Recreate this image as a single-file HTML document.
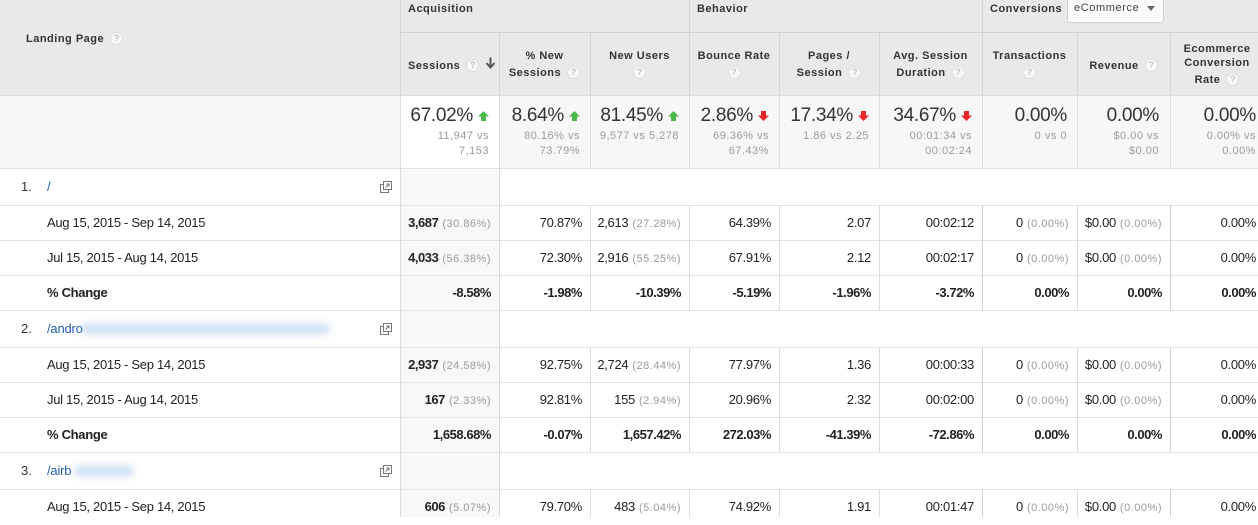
<!DOCTYPE html>
<html><head><meta charset="utf-8">
<style>
*{margin:0;padding:0;box-sizing:border-box}
body{width:1258px;height:517px;overflow:hidden;background:#fff;font-family:"Liberation Sans",Arial,sans-serif;color:#222;position:relative}
.a{position:absolute}
.hl{position:absolute;height:1px}
.vl{position:absolute;width:1px}
.gh{position:absolute;top:1px;font-weight:bold;font-size:11px;color:#333;letter-spacing:.5px;line-height:16px;white-space:nowrap}
.ht{position:absolute;font-weight:bold;font-size:11px;color:#333;letter-spacing:.5px;line-height:16px;height:16px;white-space:nowrap;text-align:center}
.q{display:inline-block;width:13px;height:13px;border-radius:50%;background:#f8f8f8;border:1px solid #dedede;color:#c2c2c2;font-size:9px;line-height:11px;text-align:center;font-weight:bold;vertical-align:middle;margin-left:6px;letter-spacing:0;position:relative;top:-1px}
.s{position:absolute;top:105px;text-align:right;white-space:nowrap}
.big{font-size:19px;line-height:22px;letter-spacing:-.3px;color:#333}
.big svg{margin-left:5px;vertical-align:baseline}
.sub{font-size:11px;line-height:15px;color:#9a9a9a;letter-spacing:.5px;margin-top:2px}
.row{position:absolute;left:0;width:1258px}
.v{position:absolute;top:0;white-space:nowrap;font-size:13px;letter-spacing:-.3px;color:#222}
.b{font-weight:bold;letter-spacing:-.45px}
.p{font-size:11px;color:#9a9a9a;letter-spacing:.5px;margin-left:4px;font-weight:normal}
.lt{position:absolute;left:47px;top:0;font-size:13px;letter-spacing:-.3px;white-space:nowrap;color:#222}
.num{position:absolute;left:21px;top:0;font-size:13px;color:#333}
.lnk{position:absolute;left:47px;top:0;font-size:13px;color:#1f5fb3;letter-spacing:-.2px;white-space:nowrap}
.blur{position:absolute;height:12px;background:rgba(125,170,220,.32);filter:blur(3.5px);border-radius:6px}
.cp{position:absolute;left:380px;top:12px}
.k1{right:767px}.k2{right:676px}.k3{right:577px}.k4{right:487px}.k5{right:387px}.k6{right:284px}.k7{right:189px}.k8{right:96px}.k9{right:2px}
.hv{background:#d3d3d3}
.sv{background:#dfdfdf}
.dv{background:#dcdcdc}
.rl{background:#e3e3e3}
</style></head><body>

<!-- header background -->
<div class="a" style="left:0;top:0;width:1258px;height:95px;background:#e9e9e9"></div>
<!-- summary background -->
<div class="a" style="left:0;top:95px;width:1258px;height:73px;background:#f7f7f7"></div>
<div class="a" style="left:401px;top:96px;width:98px;height:72px;background:#fff"></div>
<!-- sessions column bg -->
<div class="a" style="left:401px;top:169px;width:98px;height:348px;background:#f7f8f8"></div>

<!-- header lines -->
<div class="hl hv" style="left:400px;top:32px;width:858px"></div>
<div class="hl" style="left:0;top:95px;width:1258px;background:#dcdcdc"></div>
<div class="vl hv" style="left:400px;top:0;height:95px"></div>
<div class="vl hv" style="left:689px;top:0;height:95px"></div>
<div class="vl hv" style="left:982px;top:0;height:95px"></div>
<div class="vl hv" style="left:499px;top:32px;height:63px"></div>
<div class="vl hv" style="left:590px;top:32px;height:63px"></div>
<div class="vl hv" style="left:779px;top:32px;height:63px"></div>
<div class="vl hv" style="left:879px;top:32px;height:63px"></div>
<div class="vl hv" style="left:1077px;top:32px;height:63px"></div>
<div class="vl hv" style="left:1170px;top:32px;height:63px"></div>

<!-- summary verticals -->
<div class="vl sv" style="left:400px;top:95px;height:73px"></div>
<div class="vl sv" style="left:499px;top:95px;height:73px"></div>
<div class="vl sv" style="left:590px;top:95px;height:73px"></div>
<div class="vl sv" style="left:689px;top:95px;height:73px"></div>
<div class="vl sv" style="left:779px;top:95px;height:73px"></div>
<div class="vl sv" style="left:879px;top:95px;height:73px"></div>
<div class="vl sv" style="left:982px;top:95px;height:73px"></div>
<div class="vl sv" style="left:1077px;top:95px;height:73px"></div>
<div class="vl sv" style="left:1170px;top:95px;height:73px"></div>

<!-- row lines -->
<div class="hl rl" style="left:0;top:168px;width:1258px"></div>
<div class="hl rl" style="left:0;top:205px;width:1258px"></div>
<div class="hl rl" style="left:0;top:240px;width:1258px"></div>
<div class="hl rl" style="left:0;top:275px;width:1258px"></div>
<div class="hl rl" style="left:0;top:310px;width:1258px"></div>
<div class="hl rl" style="left:0;top:347px;width:1258px"></div>
<div class="hl rl" style="left:0;top:382px;width:1258px"></div>
<div class="hl rl" style="left:0;top:417px;width:1258px"></div>
<div class="hl rl" style="left:0;top:452px;width:1258px"></div>
<div class="hl rl" style="left:0;top:489px;width:1258px"></div>

<!-- data verticals -->
<div class="vl dv" style="left:400px;top:168px;height:349px"></div>
<div class="vl dv" style="left:499px;top:168px;height:349px"></div>

<div class="vl dv" style="left:590px;top:205px;height:105px"></div>
<div class="vl dv" style="left:689px;top:205px;height:105px"></div>
<div class="vl dv" style="left:779px;top:205px;height:105px"></div>
<div class="vl dv" style="left:879px;top:205px;height:105px"></div>
<div class="vl" style="left:982px;top:205px;height:105px;background:#cfcfcf"></div>
<div class="vl dv" style="left:1077px;top:205px;height:105px"></div>
<div class="vl" style="left:1170px;top:205px;height:105px;background:#d2d2d2"></div>

<div class="vl dv" style="left:590px;top:347px;height:105px"></div>
<div class="vl dv" style="left:689px;top:347px;height:105px"></div>
<div class="vl dv" style="left:779px;top:347px;height:105px"></div>
<div class="vl dv" style="left:879px;top:347px;height:105px"></div>
<div class="vl" style="left:982px;top:347px;height:105px;background:#cfcfcf"></div>
<div class="vl dv" style="left:1077px;top:347px;height:105px"></div>
<div class="vl" style="left:1170px;top:347px;height:105px;background:#d2d2d2"></div>

<div class="vl dv" style="left:590px;top:489px;height:28px"></div>
<div class="vl dv" style="left:689px;top:489px;height:28px"></div>
<div class="vl dv" style="left:779px;top:489px;height:28px"></div>
<div class="vl dv" style="left:879px;top:489px;height:28px"></div>
<div class="vl" style="left:982px;top:489px;height:28px;background:#cfcfcf"></div>
<div class="vl dv" style="left:1077px;top:489px;height:28px"></div>
<div class="vl" style="left:1170px;top:489px;height:28px;background:#d2d2d2"></div>

<!-- header text -->
<div class="ht" style="left:26px;top:31px;text-align:left">Landing Page<span class="q">?</span></div>
<div class="gh" style="left:408px">Acquisition</div>
<div class="gh" style="left:697px">Behavior</div>
<div class="gh" style="left:990px">Conversions</div>
<div class="a" style="left:1067px;top:-4px;width:97px;height:27px;background:#fafafa;border:1px solid #d2d2d2;border-radius:3px"></div>
<div class="a" style="left:1074px;top:0;font-size:11px;line-height:16px;color:#444;letter-spacing:.6px">eCommerce</div>
<div class="a" style="left:1147px;top:6px;width:0;height:0;border-left:4px solid transparent;border-right:4px solid transparent;border-top:5px solid #666"></div>

<div class="ht" style="left:408px;top:58px;text-align:left">Sessions<span class="q">?</span><svg width="11" height="12" viewBox="0 0 11 12" style="margin-left:6px;vertical-align:middle;position:relative;top:-3px"><path d="M5.5 0.5 V10 M1.5 6 L5.5 10.5 L9.5 6" stroke="#555" stroke-width="2" fill="none"/></svg></div>

<div class="ht" style="left:499px;width:91px;top:48px">% New</div>
<div class="ht" style="left:499px;width:91px;top:65px">Sessions<span class="q">?</span></div>

<div class="ht" style="left:590px;width:99px;top:48px">New Users</div>
<div class="ht" style="left:590px;width:99px;top:65px"><span class="q" style="margin-left:0">?</span></div>

<div class="ht" style="left:689px;width:90px;top:48px">Bounce Rate</div>
<div class="ht" style="left:689px;width:90px;top:65px"><span class="q" style="margin-left:0">?</span></div>

<div class="ht" style="left:779px;width:100px;top:48px">Pages /</div>
<div class="ht" style="left:779px;width:100px;top:65px">Session<span class="q">?</span></div>

<div class="ht" style="left:879px;width:103px;top:48px">Avg. Session</div>
<div class="ht" style="left:879px;width:103px;top:65px">Duration<span class="q">?</span></div>

<div class="ht" style="left:982px;width:95px;top:48px">Transactions</div>
<div class="ht" style="left:982px;width:95px;top:65px"><span class="q" style="margin-left:0">?</span></div>

<div class="ht" style="left:1077px;width:93px;top:58px">Revenue<span class="q">?</span></div>

<div class="ht" style="left:1170px;width:94px;top:41px">Ecommerce</div>
<div class="ht" style="left:1170px;width:94px;top:55px">Conversion</div>
<div class="ht" style="left:1170px;width:94px;top:72px">Rate<span class="q">?</span></div>

<!-- summary -->
<div class="s" style="right:769px"><div class="big">67.02%<svg width="11" height="10" viewBox="0 0 11 10"><polygon points="5.5,0 11,5.5 8,5.5 8,10 3,10 3,5.5 0,5.5" fill="#4cb848"/></svg></div><div class="sub">11,947 vs<br>7,153</div></div>
<div class="s" style="right:678px"><div class="big">8.64%<svg width="11" height="10" viewBox="0 0 11 10"><polygon points="5.5,0 11,5.5 8,5.5 8,10 3,10 3,5.5 0,5.5" fill="#4cb848"/></svg></div><div class="sub">80.16% vs<br>73.79%</div></div>
<div class="s" style="right:579px"><div class="big">81.45%<svg width="11" height="10" viewBox="0 0 11 10"><polygon points="5.5,0 11,5.5 8,5.5 8,10 3,10 3,5.5 0,5.5" fill="#4cb848"/></svg></div><div class="sub">9,577 vs 5,278</div></div>
<div class="s" style="right:489px"><div class="big">2.86%<svg width="11" height="10" viewBox="0 0 11 10"><polygon points="5.5,10 11,4.5 8,4.5 8,0 3,0 3,4.5 0,4.5" fill="#e8262a"/></svg></div><div class="sub">69.36% vs<br>67.43%</div></div>
<div class="s" style="right:389px"><div class="big">17.34%<svg width="11" height="10" viewBox="0 0 11 10"><polygon points="5.5,10 11,4.5 8,4.5 8,0 3,0 3,4.5 0,4.5" fill="#e8262a"/></svg></div><div class="sub">1.86 vs 2.25</div></div>
<div class="s" style="right:286px"><div class="big">34.67%<svg width="11" height="10" viewBox="0 0 11 10"><polygon points="5.5,10 11,4.5 8,4.5 8,0 3,0 3,4.5 0,4.5" fill="#e8262a"/></svg></div><div class="sub">00:01:34 vs<br>00:02:24</div></div>
<div class="s" style="right:191px"><div class="big">0.00%</div><div class="sub">0 vs 0</div></div>
<div class="s" style="right:99px"><div class="big">0.00%</div><div class="sub">$0.00 vs<br>$0.00</div></div>
<div class="s" style="right:2px"><div class="big">0.00%</div><div class="sub">0.00% vs<br>0.00%</div></div>

<!-- Landing row 1 -->
<div class="row" style="top:169px;height:36px;line-height:36px">
 <div class="num">1.</div><div class="lnk">/</div>
 <svg class="cp" width="12" height="12" viewBox="0 0 12 12"><rect x="3.5" y="0.5" width="8" height="8" fill="#fff" stroke="#777"/><path d="M5.5 6.5 L9 3 M6.5 3 H9 V5.5" stroke="#777" fill="none"/><path d="M3.5 3.5 H0.5 V11.5 H8.5 V8.5" stroke="#777" fill="none"/></svg>
</div>
<div class="row" style="top:206px;height:34px;line-height:34px">
 <div class="lt">Aug 15, 2015 - Sep 14, 2015</div>
 <div class="v b k1">3,687<span class="p">(30.86%)</span></div>
 <div class="v k2">70.87%</div>
 <div class="v k3">2,613<span class="p">(27.28%)</span></div>
 <div class="v k4">64.39%</div>
 <div class="v k5">2.07</div>
 <div class="v k6">00:02:12</div>
 <div class="v k7">0<span class="p">(0.00%)</span></div>
 <div class="v k8">$0.00<span class="p">(0.00%)</span></div>
 <div class="v k9">0.00%</div>
</div>
<div class="row" style="top:241px;height:34px;line-height:34px">
 <div class="lt">Jul 15, 2015 - Aug 14, 2015</div>
 <div class="v b k1">4,033<span class="p">(56.38%)</span></div>
 <div class="v k2">72.30%</div>
 <div class="v k3">2,916<span class="p">(55.25%)</span></div>
 <div class="v k4">67.91%</div>
 <div class="v k5">2.12</div>
 <div class="v k6">00:02:17</div>
 <div class="v k7">0<span class="p">(0.00%)</span></div>
 <div class="v k8">$0.00<span class="p">(0.00%)</span></div>
 <div class="v k9">0.00%</div>
</div>
<div class="row" style="top:276px;height:34px;line-height:34px">
 <div class="lt b">% Change</div>
 <div class="v b k1">-8.58%</div>
 <div class="v b k2">-1.98%</div>
 <div class="v b k3">-10.39%</div>
 <div class="v b k4">-5.19%</div>
 <div class="v b k5">-1.96%</div>
 <div class="v b k6">-3.72%</div>
 <div class="v b k7">0.00%</div>
 <div class="v b k8">0.00%</div>
 <div class="v b k9">0.00%</div>
</div>

<!-- Landing row 2 -->
<div class="row" style="top:311px;height:36px;line-height:36px">
 <div class="num">2.</div><div class="lnk">/andro</div>
 <div class="blur" style="left:80px;top:12px;width:250px"></div>
 <svg class="cp" width="12" height="12" viewBox="0 0 12 12"><rect x="3.5" y="0.5" width="8" height="8" fill="#fff" stroke="#777"/><path d="M5.5 6.5 L9 3 M6.5 3 H9 V5.5" stroke="#777" fill="none"/><path d="M3.5 3.5 H0.5 V11.5 H8.5 V8.5" stroke="#777" fill="none"/></svg>
</div>
<div class="row" style="top:348px;height:34px;line-height:34px">
 <div class="lt">Aug 15, 2015 - Sep 14, 2015</div>
 <div class="v b k1">2,937<span class="p">(24.58%)</span></div>
 <div class="v k2">92.75%</div>
 <div class="v k3">2,724<span class="p">(28.44%)</span></div>
 <div class="v k4">77.97%</div>
 <div class="v k5">1.36</div>
 <div class="v k6">00:00:33</div>
 <div class="v k7">0<span class="p">(0.00%)</span></div>
 <div class="v k8">$0.00<span class="p">(0.00%)</span></div>
 <div class="v k9">0.00%</div>
</div>
<div class="row" style="top:383px;height:34px;line-height:34px">
 <div class="lt">Jul 15, 2015 - Aug 14, 2015</div>
 <div class="v b k1">167<span class="p">(2.33%)</span></div>
 <div class="v k2">92.81%</div>
 <div class="v k3">155<span class="p">(2.94%)</span></div>
 <div class="v k4">20.96%</div>
 <div class="v k5">2.32</div>
 <div class="v k6">00:02:00</div>
 <div class="v k7">0<span class="p">(0.00%)</span></div>
 <div class="v k8">$0.00<span class="p">(0.00%)</span></div>
 <div class="v k9">0.00%</div>
</div>
<div class="row" style="top:418px;height:34px;line-height:34px">
 <div class="lt b">% Change</div>
 <div class="v b k1">1,658.68%</div>
 <div class="v b k2">-0.07%</div>
 <div class="v b k3">1,657.42%</div>
 <div class="v b k4">272.03%</div>
 <div class="v b k5">-41.39%</div>
 <div class="v b k6">-72.86%</div>
 <div class="v b k7">0.00%</div>
 <div class="v b k8">0.00%</div>
 <div class="v b k9">0.00%</div>
</div>

<!-- Landing row 3 -->
<div class="row" style="top:453px;height:36px;line-height:36px">
 <div class="num">3.</div><div class="lnk">/airb</div>
 <div class="blur" style="left:74px;top:12px;width:60px"></div>
 <svg class="cp" width="12" height="12" viewBox="0 0 12 12"><rect x="3.5" y="0.5" width="8" height="8" fill="#fff" stroke="#777"/><path d="M5.5 6.5 L9 3 M6.5 3 H9 V5.5" stroke="#777" fill="none"/><path d="M3.5 3.5 H0.5 V11.5 H8.5 V8.5" stroke="#777" fill="none"/></svg>
</div>
<div class="row" style="top:490px;height:34px;line-height:34px">
 <div class="lt">Aug 15, 2015 - Sep 14, 2015</div>
 <div class="v b k1">606<span class="p">(5.07%)</span></div>
 <div class="v k2">79.70%</div>
 <div class="v k3">483<span class="p">(5.04%)</span></div>
 <div class="v k4">74.92%</div>
 <div class="v k5">1.91</div>
 <div class="v k6">00:01:47</div>
 <div class="v k7">0<span class="p">(0.00%)</span></div>
 <div class="v k8">$0.00<span class="p">(0.00%)</span></div>
 <div class="v k9">0.00%</div>
</div>

</body></html>
